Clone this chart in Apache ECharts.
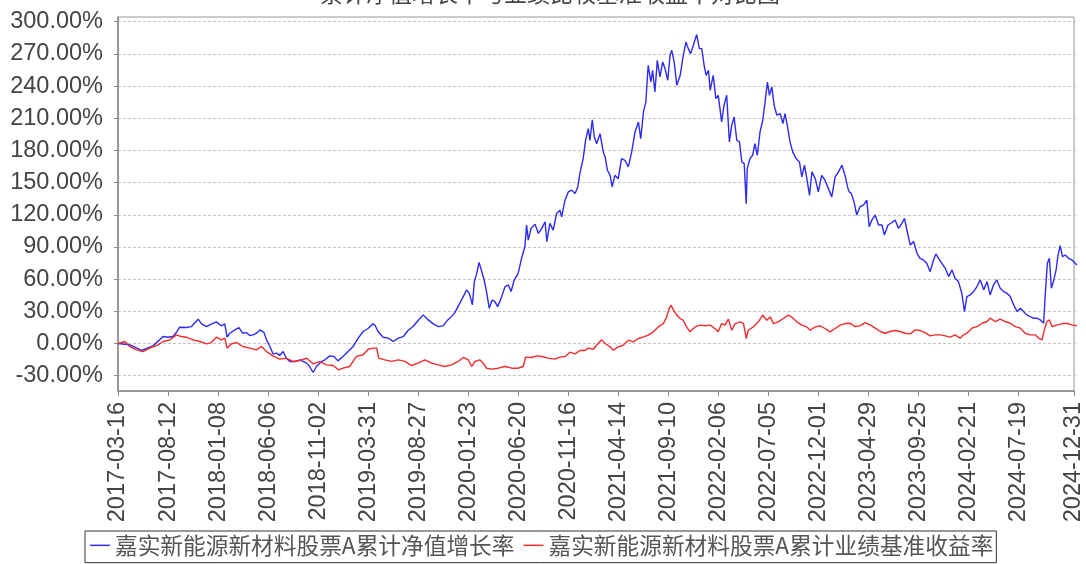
<!DOCTYPE html>
<html>
<head>
<meta charset="utf-8">
<script src="https://cdn.jsdelivr.net/npm/echarts@6/dist/echarts.min.js"></script>
<style>
html, body { margin: 0; padding: 0; background: #fff; }
#chart { width: 1086px; height: 564px; }
</style>
</head>
<body>
<div id="chart"></div>
<script>
// 起始日
var startDate = '2017-03-16';
var tickDates = ['2017-03-16', '2017-08-12', '2018-01-08', '2018-06-06', '2018-11-02',
    '2019-03-31', '2019-08-27', '2020-01-23', '2020-06-20', '2020-11-16',
    '2021-04-14', '2021-09-10', '2022-02-06', '2022-07-05', '2022-12-01',
    '2023-04-29', '2023-09-25', '2024-02-21', '2024-07-19', '2024-12-31'];
var seriesNames = ['嘉实新能源新材料股票A累计净值增长率', '嘉实新能源新材料股票A累计业绩基准收益率'];
var titleText = '累计净值增长率与业绩比较基准收益率对比图';

// 累计净值增长率 (距起始日天数, %)
var navDays = [0, 35, 70, 104, 134, 149, 163, 173, 183, 203, 218, 238, 248, 263, 272, 292, 307, 317, 324, 332,
    347, 359, 370, 381, 391, 401, 411, 421, 433, 441, 451, 460, 471, 480, 490, 500, 510, 525, 540, 560,
    569, 579, 589, 604, 614, 629, 641, 653, 668, 683, 698, 713, 727, 742, 757, 763, 772, 787, 802, 817,
    832, 847, 861, 876, 891, 906, 921, 936, 951, 965, 979, 990, 1000, 1012, 1025, 1035, 1043, 1052, 1058, 1065,
    1072, 1080, 1087, 1094, 1102, 1111, 1119, 1127, 1139, 1149, 1159, 1167, 1176, 1188, 1198, 1208, 1213, 1218, 1226, 1238,
    1248, 1258, 1268, 1273, 1282, 1292, 1302, 1312, 1317, 1327, 1337, 1347, 1357, 1365, 1371, 1381, 1388, 1396, 1401, 1408,
    1414, 1421, 1431, 1441, 1446, 1453, 1461, 1467, 1475, 1485, 1495, 1505, 1515, 1525, 1535, 1545, 1552, 1560, 1567, 1574,
    1582, 1587, 1594, 1601, 1609, 1617, 1624, 1632, 1639, 1644, 1651, 1659, 1669, 1678, 1686, 1693, 1700, 1708, 1718, 1726,
    1733, 1740, 1746, 1753, 1758, 1767, 1775, 1782, 1792, 1799, 1807, 1815, 1822, 1829, 1837, 1845, 1852, 1859, 1865, 1868,
    1876, 1884, 1891, 1898, 1906, 1914, 1921, 1928, 1934, 1941, 1948, 1956, 1966, 1974, 1980, 1987, 1995, 2003, 2013, 2023,
    2030, 2038, 2045, 2053, 2060, 2070, 2079, 2089, 2099, 2109, 2119, 2129, 2139, 2149, 2159, 2167, 2171, 2177, 2186, 2193,
    2203, 2213, 2223, 2230, 2238, 2248, 2258, 2268, 2275, 2286, 2297, 2307, 2317, 2327, 2335, 2342, 2352, 2362, 2372, 2381,
    2391, 2401, 2411, 2421, 2428, 2436, 2446, 2456, 2466, 2476, 2485, 2495, 2505, 2513, 2520, 2530, 2540, 2550, 2560, 2570,
    2580, 2589, 2599, 2609, 2619, 2629, 2639, 2649, 2659, 2669, 2679, 2688, 2698, 2708, 2718, 2728, 2738, 2748, 2753, 2759,
    2765, 2771, 2777, 2785, 2790, 2797, 2804, 2812, 2822, 2832, 2847];
var navValues = [0, -1.2, -6.5, -2.2, 6.5, 5.9, 6.5, 10.2, 15.2, 14.9, 15.8, 22.7, 18.3, 15.8, 17.4, 20.2, 16.5, 18.3, 5.9, 9.6,
    12.7, 14.9, 9.6, 10.2, 7.5, 8.1, 9.6, 12.7, 10.6, 3.4, -2.8, -9.6, -9.0, -11.2, -7.5, -13.7, -16.8, -16.8, -15.2, -18.3,
    -21.4, -27.0, -21.4, -16.8, -15.2, -11.5, -12.1, -16.2, -12.1, -7.5, -2.8, 5.0, 11.0, 14.0, 18.3, 17.0, 11.2, 5.9, 5.0, 1.9,
    5.0, 6.5, 12.1, 15.8, 21.4, 26.7, 22.0, 18.3, 15.8, 16.4, 22.0, 25.1, 28.8, 36.0, 43.7, 50.0, 46.8, 36.0, 57.7, 65.4,
    75.6, 67.0, 59.2, 48.4, 32.9, 40.6, 39.0, 34.4, 43.7, 53.0, 54.6, 48.4, 59.2, 65.4, 79.4, 90.2, 110.4, 96.4, 107.3, 111.3,
    102.6, 107.3, 113.5, 94.9, 112.0, 105.7, 121.2, 124.3, 118.1, 133.6, 141.4, 143.0, 139.8, 146.0, 158.4, 172.4, 189.4, 200.3, 189.4, 208.6,
    192.5, 186.3, 195.6, 178.0, 174.0, 161.5, 156.8, 146.0, 156.8, 153.7, 172.4, 170.8, 164.6, 178.6, 197.2, 206.5, 191.0, 215.9, 225.2, 259.4,
    243.8, 254.7, 234.5, 264.0, 248.5, 262.5, 256.2, 245.4, 268.7, 273.3, 262.5, 240.7, 250.0, 268.7, 281.0, 274.9, 270.2, 278.0, 288.0, 274.9,
    274.9, 259.4, 250.0, 254.7, 236.0, 250.0, 228.3, 231.4, 206.5, 222.0, 231.4, 188.0, 203.4, 211.2, 189.5, 188.0, 169.3, 167.7, 130.4, 163.0,
    172.4, 175.5, 186.4, 175.5, 197.2, 208.1, 225.2, 243.8, 231.4, 239.2, 222.0, 212.8, 214.3, 205.0, 214.3, 203.4, 188.0, 178.6, 172.4, 169.3,
    155.3, 166.2, 153.7, 138.2, 160.0, 153.7, 141.3, 156.8, 152.2, 144.4, 136.7, 155.3, 160.0, 166.2, 156.0, 144.6, 141.3, 140.0, 130.6, 119.8,
    127.5, 129.1, 133.7, 108.9, 115.1, 119.8, 110.5, 110.5, 101.2, 110.5, 112.6, 115.1, 107.4, 112.0, 116.7, 105.8, 91.8, 95.0, 84.1, 79.4,
    77.9, 74.8, 67.0, 77.9, 83.5, 79.4, 74.8, 70.1, 62.4, 68.6, 60.8, 57.7, 46.9, 29.8, 43.8, 45.3, 48.4, 53.1, 59.3, 50.0,
    57.7, 45.3, 54.6, 59.3, 51.5, 48.4, 46.9, 43.8, 36.0, 29.8, 32.9, 29.8, 26.7, 25.1, 23.6, 23.6, 22.0, 18.9, 46.9, 74.8,
    79.4, 51.5, 57.7, 68.6, 81.0, 91.2, 81.0, 82.5, 79.4, 77.9, 73.2];

// 累计业绩基准收益率
var benchDays = [0, 20, 35, 55, 74, 94, 119, 134, 154, 173, 188, 203, 223, 243, 263, 277, 292, 307, 317, 324,
    337, 352, 371, 391, 411, 426, 441, 460, 480, 500, 520, 540, 560, 579, 599, 619, 639, 654, 668, 688,
    708, 713, 728, 743, 757, 768, 774, 792, 812, 832, 852, 871, 891, 911, 931, 951, 970, 990, 1010, 1025,
    1040, 1050, 1060, 1074, 1084, 1094, 1109, 1129, 1149, 1169, 1188, 1203, 1210, 1228, 1243, 1258, 1277, 1297, 1312, 1327,
    1342, 1357, 1371, 1386, 1396, 1411, 1426, 1436, 1446, 1461, 1470, 1485, 1500, 1515, 1530, 1545, 1560, 1574, 1589, 1604,
    1619, 1629, 1636, 1642, 1649, 1659, 1669, 1678, 1688, 1698, 1713, 1728, 1743, 1758, 1772, 1782, 1792, 1802, 1812, 1822,
    1832, 1847, 1857, 1865, 1871, 1886, 1901, 1914, 1926, 1936, 1946, 1960, 1975, 1990, 2000, 2015, 2030, 2045, 2055, 2070,
    2084, 2099, 2114, 2129, 2144, 2159, 2174, 2188, 2203, 2218, 2233, 2248, 2263, 2277, 2292, 2307, 2322, 2337, 2352, 2367,
    2381, 2396, 2411, 2426, 2441, 2456, 2471, 2485, 2500, 2510, 2520, 2535, 2550, 2565, 2580, 2589, 2604, 2619, 2634, 2649,
    2664, 2679, 2693, 2708, 2723, 2733, 2743, 2750, 2758, 2765, 2773, 2788, 2802, 2817, 2832, 2847];
var benchValues = [0, 1.9, -2.8, -5.9, -7.5, -4.3, -1.2, 1.9, 3.4, 8.1, 6.5, 5.9, 3.4, 1.9, -0.3, 0.9, 5.9, 3.4, 5.0, -4.3,
    -0.3, 0.9, -2.8, -4.3, -5.9, -2.8, -7.5, -11.5, -14.6, -13.7, -16.8, -15.8, -13.7, -18.9, -16.8, -19.9, -20.5, -24.5, -23.0, -21.4,
    -12.0, -13.0, -10.5, -5.3, -4.3, -4.3, -13.6, -15.2, -16.7, -15.2, -16.7, -20.5, -18.3, -15.2, -18.3, -19.9, -21.4, -19.9, -16.7, -13.0,
    -15.2, -21.4, -16.7, -15.2, -18.3, -23.0, -23.9, -23.0, -21.4, -23.0, -23.0, -21.4, -12.7, -13.0, -11.5, -12.1, -13.6, -14.6, -12.7, -12.1,
    -8.1, -9.6, -6.5, -6.5, -4.3, -5.3, 0.3, 3.4, 0.0, -3.1, -6.2, -3.1, -1.6, 3.1, 1.6, 4.7, 6.2, 7.8, 10.9, 15.5,
    18.6, 24.8, 32.6, 35.7, 31.1, 26.4, 23.3, 21.7, 15.5, 10.9, 15.5, 17.1, 16.5, 17.1, 14.0, 10.9, 18.6, 17.1, 22.7, 12.4,
    18.6, 20.2, 18.6, 4.7, 12.4, 15.5, 20.2, 26.4, 21.7, 24.8, 18.6, 20.2, 23.3, 26.4, 24.8, 20.2, 17.1, 15.5, 12.4, 15.5,
    16.5, 14.0, 10.9, 14.0, 17.1, 18.6, 18.9, 15.8, 16.4, 19.5, 17.4, 14.3, 11.2, 9.6, 11.2, 12.1, 11.2, 9.6, 9.0, 12.7,
    12.1, 10.2, 7.1, 8.1, 8.1, 7.1, 5.9, 8.1, 5.0, 8.1, 9.6, 14.3, 15.8, 18.9, 20.5, 23.6, 20.5, 22.7, 20.5, 18.9,
    15.8, 14.3, 9.6, 8.1, 8.1, 5.0, 3.4, 12.7, 20.5, 22.0, 15.8, 17.4, 18.3, 18.9, 17.4, 16.4];

var DAY = 86400000;
function dayOf(s) {
    return Math.round((Date.parse(s) - Date.parse(startDate)) / DAY);
}
function dateOf(d) {
    return new Date(Date.parse(startDate) + d * DAY).toISOString().slice(0, 10);
}
function pairs(xs, ys) {
    return xs.map(function (x, i) { return [x, ys[i]]; });
}

var tickDays = tickDates.map(dayOf);
var lastDay = tickDays[tickDays.length - 1];
var numFont = 'Liberation Sans, Arial, sans-serif';
var cjkFont = 'Noto Sans CJK SC, sans-serif';

var option = {
    backgroundColor: '#fff',
    animation: false,
    title: {
        text: titleText,
        left: 315,
        top: -23,
        textStyle: { fontSize: 23, fontWeight: 'normal', color: '#444', fontFamily: cjkFont }
    },
    legend: {
        left: 85,
        top: 531,
        data: seriesNames,
        icon: 'rect',
        itemWidth: 20,
        itemHeight: 1.5,
        itemGap: 9,
        borderColor: '#333',
        borderWidth: 1,
        padding: [3, 3, 6, 5],
        textStyle: { fontSize: 22.7, color: '#555', fontFamily: cjkFont }
    },
    grid: [
        // 外框
        { left: 118, top: 17, width: 959, height: 374, show: true, borderColor: '#999', borderWidth: 1, backgroundColor: 'transparent' },
        // 数据区
        { left: 118, top: 21.7, width: 959, height: 354 }
    ],
    xAxis: [{
        gridIndex: 0,
        type: 'value',
        min: 0,
        max: lastDay,
        interval: 149,
        offset: 5,
        axisLine: { show: true, lineStyle: { color: '#888', width: 1.5 } },
        axisTick: { show: true, length: 5, customValues: tickDays, lineStyle: { color: '#888' } },
        axisLabel: {
            customValues: tickDays,
            rotate: 90,
            margin: 6,
            fontSize: 23.5,
            color: '#444',
            fontFamily: numFont,
            formatter: function (v) { return dateOf(v); }
        },
        splitLine: { show: false }
    }, {
        gridIndex: 1,
        type: 'value',
        min: 0,
        max: lastDay,
        show: false
    }],
    yAxis: [{
        gridIndex: 0,
        type: 'value',
        min: 0,
        max: 1,
        offset: 5,
        axisLine: { show: true, lineStyle: { color: '#888', width: 1.5 } },
        axisTick: { show: false },
        axisLabel: { show: false },
        splitLine: { show: false }
    }, {
        gridIndex: 1,
        type: 'value',
        min: -30,
        max: 300,
        interval: 30,
        offset: 5,
        axisLine: { show: false },
        axisTick: { show: true, length: 4, lineStyle: { color: '#888' } },
        axisLabel: {
            margin: 10,
            fontSize: 23.5,
            color: '#444',
            fontFamily: numFont,
            formatter: function (v) { return v.toFixed(2) + '%'; }
        },
        splitLine: { show: true, lineStyle: { color: '#c4c4c4', type: [3, 2], width: 1 } }
    }],
    series: [{
        name: seriesNames[0],
        type: 'line',
        xAxisIndex: 1,
        yAxisIndex: 1,
        showSymbol: false,
        data: pairs(navDays, navValues),
        lineStyle: { color: '#2b2bf2', width: 1.4 },
        itemStyle: { color: '#2b2bf2' }
    }, {
        name: seriesNames[1],
        type: 'line',
        xAxisIndex: 1,
        yAxisIndex: 1,
        showSymbol: false,
        data: pairs(benchDays, benchValues),
        lineStyle: { color: '#f22b2b', width: 1.4 },
        itemStyle: { color: '#f22b2b' }
    }]
};

var chart = echarts.init(document.getElementById('chart'));
chart.setOption(option);
window.addEventListener('resize', function () {
    chart.resize();
});
</script>
</body>
</html>
